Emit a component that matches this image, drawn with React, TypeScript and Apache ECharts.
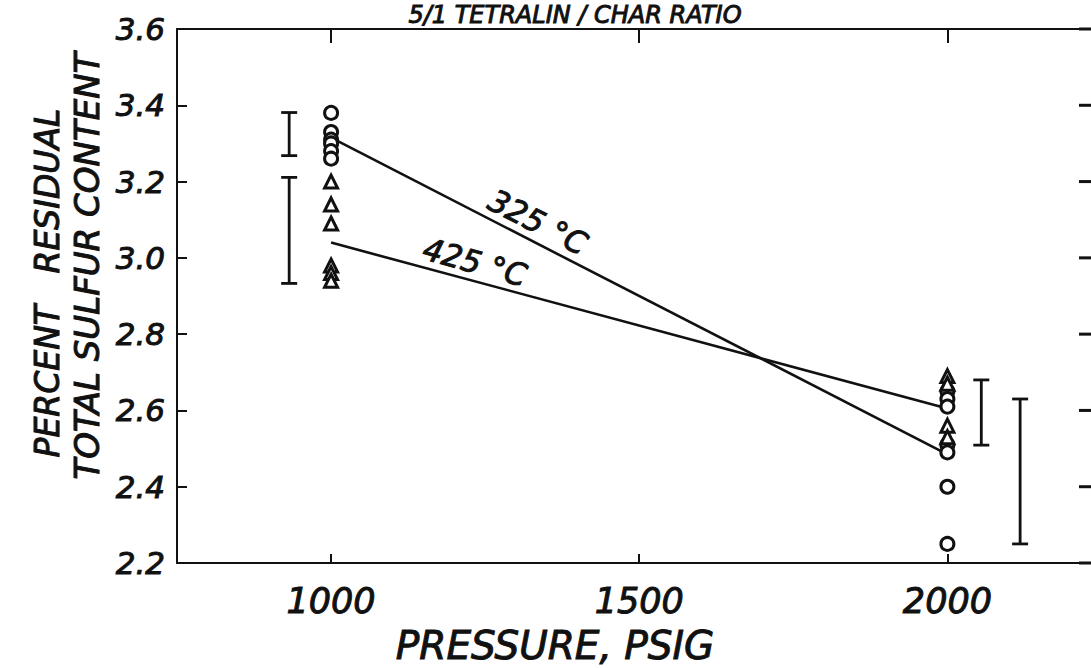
import React, { useEffect, useRef } from "react";
import * as echarts from "echarts";

// Pressure (psig) at which each test group was run
const pressureLow = 1000;
const pressureHigh = 2000;

// Residual total sulfur (%) — circles and triangles per pressure
const circles1000 = [3.38, 3.33, 3.31, 3.3, 3.28, 3.26];
const triangles1000 = [3.2, 3.14, 3.09, 2.98, 2.96, 2.94];
const circles2000 = [2.65, 2.63, 2.61, 2.51, 2.49, 2.4, 2.25];
const triangles2000 = [2.69, 2.67, 2.56, 2.53];

// Fitted lines (value at 1000 psig, value at 2000 psig)
const line325 = [3.315, 2.485];
const line425 = [3.04, 2.605];

// Range bars: [pressure position, low, high]
const rangeBars = [
  [932, 3.268, 3.381],
  [932, 2.933, 3.211],
  [2055, 2.509, 2.68],
  [2118, 2.25, 2.63],
];

const xTicks = [1000, 1500, 2000];
const yTicks = [2.2, 2.4, 2.6, 2.8, 3.0, 3.2, 3.4, 3.6];

const FONT = "DejaVu Sans";
const INK = "#111";

// Italic lettering thickened with a thin outline
const lettering = (size: number, extra: Record<string, unknown> = {}) => ({
  font: `italic ${size}px "${FONT}"`,
  fill: INK,
  stroke: INK,
  lineWidth: 1,
  align: "center",
  verticalAlign: "middle",
  ...extra,
});

export default function App() {
  const ref = useRef<HTMLDivElement>(null);

  useEffect(() => {
    if (!ref.current) return;
    const chart = echarts.init(ref.current, undefined, { renderer: "svg" });

    const markerStyle = {
      color: "#fff",
      borderColor: INK,
      borderWidth: 3,
      opacity: 1,
    };

    const tickLabel = {
      fontFamily: FONT,
      fontStyle: "italic",
      color: INK,
      textBorderColor: INK,
      textBorderWidth: 1,
    };

    const texts = [
      {
        type: "text",
        x: 575,
        y: 3,
        style: lettering(24, { text: "5/1 TETRALIN / CHAR RATIO", verticalAlign: "top" }),
      },
      {
        type: "text",
        x: 47,
        y: 283,
        rotation: Math.PI / 2,
        style: lettering(33, { text: "PERCENT   RESIDUAL" }),
      },
      {
        type: "text",
        x: 87,
        y: 266,
        rotation: Math.PI / 2,
        style: lettering(34, { text: "TOTAL SULFUR CONTENT" }),
      },
      {
        type: "text",
        x: 555,
        y: 645,
        style: lettering(39, { text: "PRESSURE, PSIG" }),
      },
      {
        type: "text",
        x: 538,
        y: 222,
        rotation: -0.47,
        style: lettering(31, { text: "325 °C" }),
      },
      {
        type: "text",
        x: 475,
        y: 262,
        rotation: -0.27,
        style: lettering(31, { text: "425 °C" }),
      },
    ];

    chart.setOption({
      animation: false,
      backgroundColor: "#fff",
      grid: { left: 177, top: 29, right: 0, bottom: 105 },
      xAxis: [
        {
          type: "value",
          min: 750,
          max: 2233,
          position: "bottom",
          axisLine: { show: true, onZero: false, lineStyle: { color: INK, width: 2 } },
          axisTick: {
            show: true,
            inside: true,
            length: 9,
            customValues: xTicks,
            lineStyle: { color: INK, width: 2 },
          },
          axisLabel: {
            ...tickLabel,
            customValues: xTicks,
            margin: 20,
            fontSize: 35,
            formatter: (v: number) => String(v),
          },
          splitLine: { show: false },
        },
        {
          type: "value",
          min: 750,
          max: 2233,
          position: "top",
          axisLine: { show: true, onZero: false, lineStyle: { color: INK, width: 2 } },
          axisTick: {
            show: true,
            inside: true,
            length: 14,
            customValues: xTicks,
            lineStyle: { color: INK, width: 2 },
          },
          axisLabel: { show: false },
          splitLine: { show: false },
        },
      ],
      yAxis: {
        type: "value",
        min: 2.2,
        max: 3.6,
        interval: 0.2,
        position: "left",
        axisLine: { show: true, onZero: false, lineStyle: { color: INK, width: 2 } },
        axisTick: { show: true, inside: true, length: 10, lineStyle: { color: INK, width: 2 } },
        axisLabel: {
          ...tickLabel,
          margin: 12,
          fontSize: 31,
          formatter: (v: number) => v.toFixed(1),
        },
        splitLine: { show: false },
      },
      series: [
        {
          type: "line",
          data: [
            [pressureLow, line325[0]],
            [pressureHigh, line325[1]],
          ],
          showSymbol: false,
          lineStyle: { color: INK, width: 2.6 },
          z: 2,
        },
        {
          type: "line",
          data: [
            [pressureLow, line425[0]],
            [pressureHigh, line425[1]],
          ],
          showSymbol: false,
          lineStyle: { color: INK, width: 2.6 },
          z: 2,
        },
        {
          type: "scatter",
          symbol: "circle",
          symbolSize: 13,
          data: [
            ...circles1000.map((v) => [pressureLow, v]),
            ...circles2000.map((v) => [pressureHigh, v]),
          ],
          itemStyle: markerStyle,
          z: 3,
        },
        {
          type: "scatter",
          symbol: "triangle",
          symbolSize: 13,
          data: [
            ...triangles1000.map((v) => [pressureLow, v]),
            ...triangles2000.map((v) => [pressureHigh, v]),
          ],
          itemStyle: markerStyle,
          z: 3,
        },
        {
          type: "custom",
          data: rangeBars,
          renderItem: (params: any, api: any) => {
            const x = api.value(0);
            const lo = api.coord([x, api.value(1)]);
            const hi = api.coord([x, api.value(2)]);
            const half = 8;
            const style = { stroke: INK, lineWidth: 2.8 };
            return {
              type: "group",
              children: [
                { type: "line", shape: { x1: lo[0], y1: lo[1], x2: hi[0], y2: hi[1] }, style },
                { type: "line", shape: { x1: lo[0] - half, y1: lo[1], x2: lo[0] + half, y2: lo[1] }, style },
                { type: "line", shape: { x1: hi[0] - half, y1: hi[1], x2: hi[0] + half, y2: hi[1] }, style },
              ],
            };
          },
          z: 3,
        },
      ],
      graphic: texts,
    });

    // The frame's right side runs off the page: keep that edge open and
    // mark only short inward ticks there, placed through the value axis.
    const width = chart.getWidth();
    const top = chart.convertToPixel({ gridIndex: 0 }, [pressureLow, yTicks[yTicks.length - 1]])[1];
    const bottom = chart.convertToPixel({ gridIndex: 0 }, [pressureLow, yTicks[0]])[1];
    const rightTicks = yTicks.map((v) => {
      const y = chart.convertToPixel({ gridIndex: 0 }, [pressureLow, v])[1];
      return {
        type: "line",
        z: 101,
        shape: { x1: width - 12, y1: y, x2: width, y2: y },
        style: { stroke: INK, lineWidth: 3 },
      };
    });

    chart.setOption({
      graphic: [
        ...texts,
        {
          type: "rect",
          z: 100,
          shape: { x: width - 8, y: top + 2, width: 8, height: bottom - top - 4 },
          style: { fill: "#fff" },
        },
        ...rightTicks,
      ],
    });

    return () => chart.dispose();
  }, []);

  return (
    <div
      ref={ref}
      style={{ position: "fixed", left: 0, top: 0, width: 1091, height: 668 }}
    />
  );
}
